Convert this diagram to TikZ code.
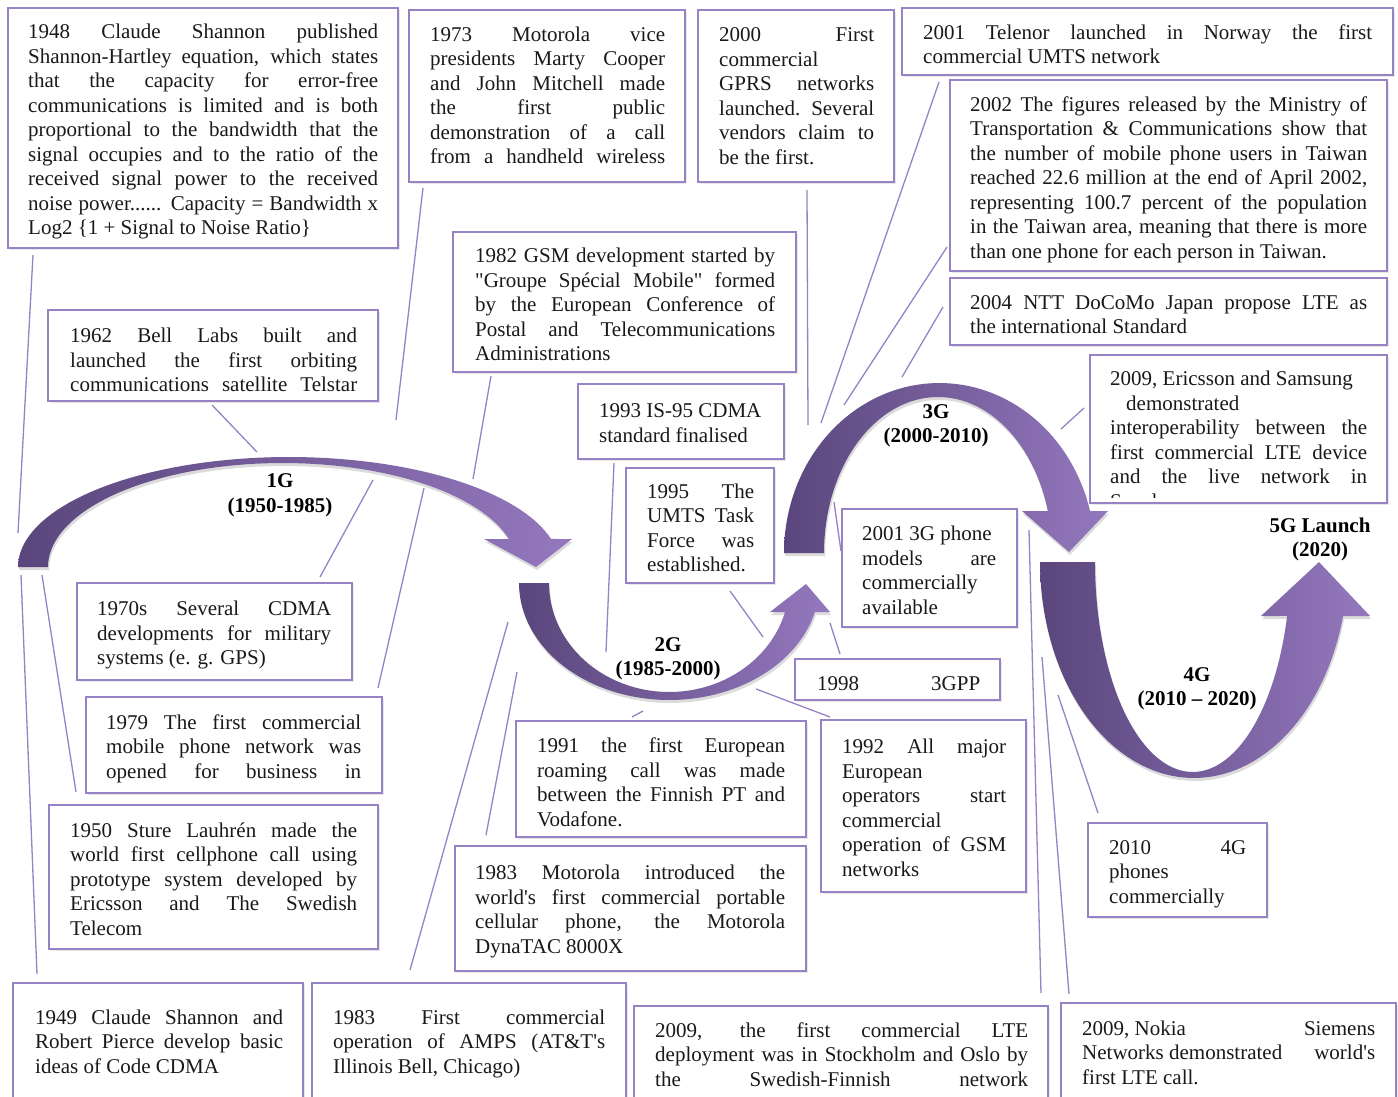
\documentclass[tikz,border=0pt]{standalone}
\usepackage{fontspec}
\setmainfont{Liberation Serif}[Ligatures=TeXOff]
\usetikzlibrary{shadows}
\definecolor{lav}{RGB}{152,130,198}
\definecolor{pdark}{RGB}{90,70,124}
\definecolor{plight}{RGB}{148,120,190}
\definecolor{ink}{RGB}{25,25,25}
\newcommand{\jl}[1]{\makebox[\linewidth][s]{#1}}
\begin{document}
\begin{tikzpicture}[x=1pt,y=-1pt,
  box/.style={draw=lav, line width=1.4pt, fill=white, inner sep=0pt, outer sep=0pt, anchor=north west,
    drop shadow={opacity=0.18, shadow xshift=1.5pt, shadow yshift=-2pt}},
  txt/.style={inner sep=0pt, anchor=base west, text=ink, font=\fontsize{21}{24.5}\selectfont},
  conn/.style={draw=lav, line width=1.3pt},
  lbl/.style={align=center, inner sep=0pt, text=black, font=\fontsize{21}{24.5}\selectfont\bfseries},
  bigarrow/.style={left color=pdark, right color=plight,
    drop shadow={opacity=0.28, shadow xshift=1pt, shadow yshift=-3pt}},
]
\useasboundingbox (0,0) rectangle (1398,1097);
\fill[white] (0,0) rectangle (1398,1097);

% ---------- connector end points ----------
\coordinate (a1) at (33,255);   \coordinate (z1) at (18,533);
\coordinate (a2) at (21,575);   \coordinate (z2) at (37,974);
\coordinate (a3) at (42,575);   \coordinate (z3) at (76,792);
\coordinate (a4) at (212,405);  \coordinate (z4) at (257,452);
\coordinate (a5) at (373,480);  \coordinate (z5) at (320,577);
\coordinate (a6) at (423,188);  \coordinate (z6) at (396,420);
\coordinate (a7) at (424,488);  \coordinate (z7) at (378,688);
\coordinate (a8) at (491,376);  \coordinate (z8) at (473,479);
\coordinate (a9) at (614,463);  \coordinate (z9) at (606,652);
\coordinate (a10) at (730,591); \coordinate (z10) at (763,637);
\coordinate (a11) at (807,190); \coordinate (z11) at (808,425);
\coordinate (a12) at (939,82);  \coordinate (z12) at (821,423);
\coordinate (a13) at (947,247); \coordinate (z13) at (844,405);
\coordinate (a14) at (943,307); \coordinate (z14) at (902,377);
\coordinate (a15) at (1084,408);\coordinate (z15) at (1061,429);
\coordinate (a16) at (834,502); \coordinate (z16) at (841,551);
\coordinate (a17) at (830,623); \coordinate (z17) at (840,654);
\coordinate (a18) at (756,689); \coordinate (z18) at (830,717);
\coordinate (a19) at (643,711); \coordinate (z19) at (632,717);
\coordinate (a20) at (508,622); \coordinate (z20) at (410,970);
\coordinate (a21) at (517,672); \coordinate (z21) at (486,835);
\coordinate (a22) at (1029,530);\coordinate (z22) at (1041,993);
\coordinate (a23) at (1042,657);\coordinate (z23) at (1069,994);
\coordinate (a24) at (1058,695);\coordinate (z24) at (1098,813);
\foreach \i in {1,...,24} { \draw[conn] (a\i) -- (z\i); }

% ---------- big curved arrows ----------
% 1G
\path[bigarrow] plot[domain=180:14.75, samples=70] ({289+271*cos(\x)},{567-110*sin(\x)})
  -- (572,539) -- (536,567) -- (484,539)
  -- plot[domain=15.62:180, samples=70] ({282.8+234.8*cos(\x)},{567-104*sin(\x)}) -- cycle;
% 2G
\path[bigarrow] plot[domain=180:345.65, samples=70] ({669.3+150.3*cos(\x)},{583-117*sin(\x)})
  -- (830,612) -- (806,584) -- (770,612)
  -- plot[domain=344.57:180, samples=70] ({669.2+120.2*cos(\x)},{583-109*sin(\x)}) -- cycle;
% 3G
\path[bigarrow] plot[domain=180:14.3, samples=70] ({939.4+155.4*cos(\x)},{553-170*sin(\x)})
  -- (1108,511) -- (1069,552) -- (1022,511)
  -- plot[domain=15.62:180, samples=70] ({938+114*cos(\x)},{553-156*sin(\x)}) -- cycle;
% 4G
\path[bigarrow] plot[domain=180:345.52, samples=70] ({1194+154*cos(\x)},{562-216*sin(\x)})
  -- (1370,616) -- (1319,562) -- (1261,616)
  -- plot[domain=345.1:180, samples=70] ({1192.7+97.7*cos(\x)},{562-210*sin(\x)}) -- cycle;

% ---------- generation labels ----------
\node[lbl] (g1) at (280,495.5) {1G\\(1950-1985)};
\node[lbl] (g2) at (668,659) {2G\\(1985-2000)};
\node[lbl] (g3) at (936,426) {3G\\(2000-2010)};
\node[lbl] (g4) at (1197,689) {4G\\(2010 – 2020)};
\node[lbl] (g5) at (1320,539.5) {5G Launch\\(2020)};

% ---------- boxes ----------
\node[box, minimum width=390pt, minimum height=240pt] (b1948) at (8,8) {};
\node[box, minimum width=276pt, minimum height=172pt] (b1973) at (409,10) {};
\node[box, minimum width=196pt, minimum height=172pt] (b2000) at (698,10) {};
\node[box, minimum width=491pt, minimum height=67pt] (b2001t) at (902,8) {};
\node[box, minimum width=437pt, minimum height=191pt] (b2002) at (950,80) {};
\node[box, minimum width=437pt, minimum height=67pt] (b2004) at (950,278) {};
\node[box, minimum width=297pt, minimum height=148pt] (b2009e) at (1090,355) {};
\node[box, minimum width=330pt, minimum height=91pt] (b1962) at (48,310) {};
\node[box, minimum width=343pt, minimum height=140pt] (b1982) at (453,232) {};
\node[box, minimum width=206pt, minimum height=75pt] (b1993) at (578,384) {};
\node[box, minimum width=148pt, minimum height=115pt] (b1995) at (626,468) {};
\node[box, minimum width=175pt, minimum height=118pt] (b2001g) at (842,509) {};
\node[box, minimum width=205pt, minimum height=41pt] (b1998) at (795,659) {};
\node[box, minimum width=275pt, minimum height=97pt] (b1970) at (77,583) {};
\node[box, minimum width=296pt, minimum height=96pt] (b1979) at (86,697) {};
\node[box, minimum width=329pt, minimum height=144pt] (b1950) at (49,805) {};
\node[box, minimum width=290pt, minimum height=127pt] (b1949) at (13,983) {};
\node[box, minimum width=314pt, minimum height=127pt] (b1983a) at (312,983) {};
\node[box, minimum width=290pt, minimum height=116pt] (b1991) at (516,721) {};
\node[box, minimum width=205pt, minimum height=172pt] (b1992) at (821,720) {};
\node[box, minimum width=351pt, minimum height=125pt] (b1983m) at (455,846) {};
\node[box, minimum width=179pt, minimum height=94pt] (b2010) at (1088,823) {};
\node[box, minimum width=414pt, minimum height=104pt] (b2009l) at (634,1006) {};
\node[box, minimum width=335pt, minimum height=107pt] (b2009n) at (1061,1003) {};

% ---------- texts ----------
\node[txt] (t1948) at (28,39) {\parbox[t]{350pt}{%
\jl{1948 Claude Shannon published}\\
\jl{Shannon-Hartley equation, which states}\\
\jl{that the capacity for error-free}\\
\jl{communications is limited and is both}\\
\jl{proportional to the bandwidth that the}\\
\jl{signal occupies and to the ratio of the}\\
\jl{received signal power to the received}\\
\jl{noise power...... Capacity = Bandwidth x}\\
Log2 \{1 + Signal to Noise Ratio\}}};

\node[txt] (t1973) at (430,41.5) {\parbox[t]{235pt}{%
\jl{1973 Motorola vice}\\
\jl{presidents Marty Cooper}\\
\jl{and John Mitchell made}\\
\jl{the first public}\\
\jl{demonstration of a call}\\
\jl{from a handheld wireless}}};

\node[txt] (t2000) at (719,42) {\parbox[t]{155pt}{%
\jl{2000 First}\\
commercial\\
\jl{GPRS networks}\\
\jl{launched. Several}\\
\jl{vendors claim to}\\
be the first.}};

\node[txt] (t2001t) at (923,39.5) {\parbox[t]{449pt}{%
\jl{2001 Telenor launched in Norway the first}\\
commercial UMTS network}};

\node[txt] (t2002) at (970,111.5) {\parbox[t]{397pt}{%
\jl{2002 The figures released by the Ministry of}\\
\jl{Transportation \& Communications show that}\\
\jl{the number of mobile phone users in Taiwan}\\
\jl{reached 22.6 million at the end of April 2002,}\\
\jl{representing 100.7 percent of the population}\\
\jl{in the Taiwan area, meaning that there is more}\\
than one phone for each person in Taiwan.}};

\node[txt] (t2004) at (970,309) {\parbox[t]{397pt}{%
\jl{2004 NTT DoCoMo Japan propose LTE as}\\
the international Standard}};

\begin{scope}
\clip (1090,355) rectangle (1387,497);
\node[txt] (t2009e) at (1110,385.5) {\parbox[t]{257pt}{%
2009, Ericsson and Samsung\\
\hspace*{16pt}demonstrated\\
\jl{interoperability between the}\\
\jl{first commercial LTE device}\\
\jl{and the live network in}\\
Sweden.}};
\end{scope}

\node[txt] (t1962) at (70,342.5) {\parbox[t]{287pt}{%
\jl{1962 Bell Labs built and}\\
\jl{launched the first orbiting}\\
\jl{communications satellite Telstar}}};

\node[txt] (t1982) at (475,262.5) {\parbox[t]{300pt}{%
\jl{1982 GSM development started by}\\
\jl{"Groupe Spécial Mobile" formed}\\
\jl{by the European Conference of}\\
\jl{Postal and Telecommunications}\\
Administrations}};

\node[txt] (t1993) at (599,417.5) {\parbox[t]{170pt}{%
1993 IS-95 CDMA\\
standard finalised}};

\node[txt] (t1995) at (647,498) {\parbox[t]{107pt}{%
\jl{1995 The}\\
\jl{UMTS Task}\\
\jl{Force was}\\
established.}};

\node[txt] (t2001g) at (862,540.5) {\parbox[t]{134pt}{%
2001 3G phone\\
\jl{models are}\\
commercially\\
available}};

\node[txt] (t1998) at (817,690) {\parbox[t]{163pt}{%
\jl{1998 3GPP}}};

\node[txt] (t1970) at (97,615.5) {\parbox[t]{234pt}{%
\jl{1970s Several CDMA}\\
\jl{developments for military}\\
systems (e. g. GPS)}};

\node[txt] (t1979) at (106,729) {\parbox[t]{255pt}{%
\jl{1979 The first commercial}\\
\jl{mobile phone network was}\\
\jl{opened for business in}}};

\node[txt] (t1950) at (70,837) {\parbox[t]{287pt}{%
\jl{1950 Sture Lauhrén made the}\\
\jl{world first cellphone call using}\\
\jl{prototype system developed by}\\
\jl{Ericsson and The Swedish}\\
Telecom}};

\node[txt] (t1949) at (35,1024) {\parbox[t]{248pt}{%
\jl{1949 Claude Shannon and}\\
\jl{Robert Pierce develop basic}\\
ideas of Code CDMA}};

\node[txt] (t1983a) at (333,1024) {\parbox[t]{272pt}{%
\jl{1983 First commercial}\\
\jl{operation of AMPS (AT\&T's}\\
Illinois Bell, Chicago)}};

\node[txt] (t1991) at (537,752.5) {\parbox[t]{248pt}{%
\jl{1991 the first European}\\
\jl{roaming call was made}\\
\jl{between the Finnish PT and}\\
Vodafone.}};

\node[txt] (t1992) at (842,753.5) {\parbox[t]{164pt}{%
\jl{1992 All major}\\
European\\
\jl{operators start}\\
commercial\\
\jl{operation of GSM}\\
networks}};

\node[txt] (t1983m) at (475,879.5) {\parbox[t]{310pt}{%
\jl{1983 Motorola introduced the}\\
\jl{world's first commercial portable}\\
\jl{cellular phone, the Motorola}\\
DynaTAC 8000X}};

\node[txt] (t2010) at (1109,854) {\parbox[t]{137pt}{%
\jl{2010 4G}\\
phones\\
commercially}};

\node[txt] (t2009l) at (655,1037) {\parbox[t]{373pt}{%
\jl{2009, the first commercial LTE}\\
\jl{deployment was in Stockholm and Oslo by}\\
\jl{the Swedish-Finnish network}}};

\node[txt] (t2009n) at (1082,1035) {\parbox[t]{293pt}{%
\jl{\mbox{2009, Nokia} Siemens}\\
\jl{\mbox{Networks demonstrated} world's}\\
first LTE call.}};

\end{tikzpicture}
\end{document}
